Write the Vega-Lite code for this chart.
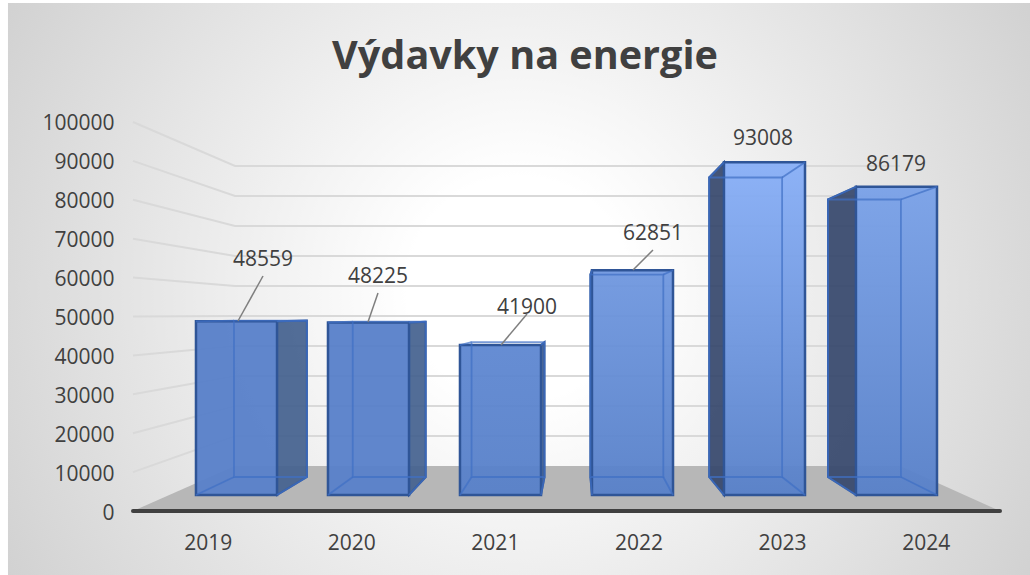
{
"$schema":"https://vega.github.io/schema/vega-lite/v6.json",
"width":1030,"height":575,"padding":0,
"autosize":{"type":"fit","contains":"padding"},
"background":"#ffffff",
"title":{"text":"Výdavky na energie","font":"Open Sans","fontSize":39.6,"fontWeight":"bold","color":"#404040","anchor":"middle","dx":10,"offset":-117,"baseline":"bottom"},
"config":{"view":{"stroke":null},"axis":{"labelFont":"Open Sans","labelFontSize":21,"labelColor":"#404040"}},
"datasets":{
"bars":[
{"year":"2019","value":48559,"labelSlot":0.8997,"labelY":65039},
{"year":"2020","value":48225,"labelSlot":1.6955,"labelY":60668},
{"year":"2021","value":41900,"labelSlot":2.7266,"labelY":52699},
{"year":"2022","value":62851,"labelSlot":3.5986,"labelY":71722},
{"year":"2023","value":93008,"labelSlot":4.3599,"labelY":96144},
{"year":"2024","value":86179,"labelSlot":5.2803,"labelY":89460}],
"card":[{"a":-0.8651,"b":6.2076,"c":130591,"d":-16452}],
"floor":[{"y":0,"x0":0,"x1":6},{"y":11568,"x0":0.7059,"x1":5.308}],
"axisLine":[{"s":0,"y":0},{"s":6,"y":0}],
"grid":[
{"t":1,"o":0,"s":0,"y":10000},{"t":1,"o":1,"s":0.7059,"y":19280},{"t":1,"o":2,"s":5.308,"y":19280},
{"t":2,"o":0,"s":0,"y":20000},{"t":2,"o":1,"s":0.7059,"y":26992},{"t":2,"o":2,"s":5.308,"y":26992},
{"t":3,"o":0,"s":0,"y":30000},{"t":3,"o":1,"s":0.7059,"y":34704},{"t":3,"o":2,"s":5.308,"y":34704},
{"t":4,"o":0,"s":0,"y":40000},{"t":4,"o":1,"s":0.7059,"y":42416},{"t":4,"o":2,"s":5.308,"y":42416},
{"t":5,"o":0,"s":0,"y":50000},{"t":5,"o":1,"s":0.7059,"y":50129},{"t":5,"o":2,"s":5.308,"y":50129},
{"t":6,"o":0,"s":0,"y":60000},{"t":6,"o":1,"s":0.7059,"y":57841},{"t":6,"o":2,"s":5.308,"y":57841},
{"t":7,"o":0,"s":0,"y":70000},{"t":7,"o":1,"s":0.7059,"y":65553},{"t":7,"o":2,"s":5.308,"y":65553},
{"t":8,"o":0,"s":0,"y":80000},{"t":8,"o":1,"s":0.7059,"y":73265},{"t":8,"o":2,"s":5.308,"y":73265},
{"t":9,"o":0,"s":0,"y":90000},{"t":9,"o":1,"s":0.7059,"y":80977},{"t":9,"o":2,"s":5.308,"y":80977},
{"t":10,"o":0,"s":0,"y":100000},{"t":10,"o":1,"s":0.7059,"y":88689},{"t":10,"o":2,"s":5.308,"y":88689}],
"sides":[
{"year":"2019","side":"right","s":0.9965,"y0":4113,"y1":48766},{"year":"2019","side":"right","s":1.2035,"y0":8740,"y1":48946},
{"year":"2020","side":"right","s":1.91,"y0":4113,"y1":48458},{"year":"2020","side":"right","s":2.0256,"y0":8740,"y1":48663},
{"year":"2021","side":"right","s":2.8235,"y0":4113,"y1":42648},{"year":"2021","side":"right","s":2.8478,"y0":8740,"y1":43419},
{"year":"2022","side":"left","s":3.1654,"y0":8740,"y1":60771},{"year":"2022","side":"left","s":3.1765,"y0":4113,"y1":61902},
{"year":"2023","side":"left","s":3.9875,"y0":8740,"y1":85733},{"year":"2023","side":"left","s":4.09,"y0":4113,"y1":89640},
{"year":"2024","side":"left","s":4.8097,"y0":8740,"y1":80077},{"year":"2024","side":"left","s":5.0035,"y0":4113,"y1":83368}],
"diagonals":[
{"e":"19a","s":0.436,"y":4113},{"e":"19a","s":0.699,"y":8740},{"e":"19b","s":0.9965,"y":4113},{"e":"19b","s":1.2035,"y":8740},{"e":"19c","s":0.436,"y":48766},{"e":"19c","s":0.699,"y":48946},{"e":"19d","s":0.9965,"y":48766},{"e":"19d","s":1.2035,"y":48946},
{"e":"20a","s":1.3495,"y":4113},{"e":"20a","s":1.5211,"y":8740},{"e":"20b","s":1.91,"y":4113},{"e":"20b","s":2.0256,"y":8740},{"e":"20c","s":1.3495,"y":48458},{"e":"20c","s":1.5211,"y":48663},{"e":"20d","s":1.91,"y":48458},{"e":"20d","s":2.0256,"y":48663},
{"e":"21a","s":2.263,"y":4113},{"e":"21a","s":2.3432,"y":8740},{"e":"21b","s":2.8235,"y":4113},{"e":"21b","s":2.8478,"y":8740},{"e":"21c","s":2.263,"y":42648},{"e":"21c","s":2.3432,"y":43419},{"e":"21d","s":2.8235,"y":42648},{"e":"21d","s":2.8478,"y":43419},
{"e":"22a","s":3.1765,"y":4113},{"e":"22a","s":3.1654,"y":8740},{"e":"22b","s":3.737,"y":4113},{"e":"22b","s":3.6699,"y":8740},{"e":"22c","s":3.1765,"y":61902},{"e":"22c","s":3.1654,"y":60771},{"e":"22d","s":3.737,"y":61902},{"e":"22d","s":3.6699,"y":60771},
{"e":"23a","s":4.09,"y":4113},{"e":"23a","s":3.9875,"y":8740},{"e":"23b","s":4.6505,"y":4113},{"e":"23b","s":4.4921,"y":8740},{"e":"23c","s":4.09,"y":89640},{"e":"23c","s":3.9875,"y":85733},{"e":"23d","s":4.6505,"y":89640},{"e":"23d","s":4.4921,"y":85733},
{"e":"24a","s":5.0035,"y":4113},{"e":"24a","s":4.8097,"y":8740},{"e":"24b","s":5.564,"y":4113},{"e":"24b","s":5.3142,"y":8740},{"e":"24c","s":5.0035,"y":83368},{"e":"24c","s":4.8097,"y":80077},{"e":"24d","s":5.564,"y":83368},{"e":"24d","s":5.3142,"y":80077}],
"leaders":[
{"year":"2019","s":0.7266,"y":48843},{"year":"2019","s":0.8997,"y":60411},
{"year":"2020","s":1.6263,"y":48586},{"year":"2020","s":1.6955,"y":56041},
{"year":"2021","s":2.5467,"y":42674},{"year":"2021","s":2.7266,"y":50643},
{"year":"2022","s":3.4602,"y":61954},{"year":"2022","s":3.5986,"y":67095}]
},
"resolve":{"scale":{"x":"independent","y":"independent","color":"independent"}},
"layer":[
{"data":{"name":"card"},
 "mark":{"type":"rect","fill":{"gradient":"radial","x1":0.5,"y1":0.5,"r1":0,"x2":0.5,"y2":0.5,"r2":0.72,"stops":[{"offset":0,"color":"#ffffff"},{"offset":0.15,"color":"#ffffff"},{"offset":1,"color":"#c3c3c3"}]}},
 "encoding":{
  "x":{"field":"a","type":"quantitative","scale":{"domain":[-0.9204,6.2076],"nice":false,"zero":false},"axis":null},"x2":{"field":"b"},
  "y":{"field":"c","type":"quantitative","scale":{"domain":[-16452,131362],"nice":false,"zero":false},"axis":null},"y2":{"field":"d"}}},
{"data":{"name":"floor"},
 "mark":{"type":"area","orient":"horizontal","fill":"#b7b7b7"},
 "encoding":{
  "y":{"field":"y","type":"quantitative","scale":{"domain":[-16452,131362],"nice":false,"zero":false},"axis":null},
  "x":{"field":"x0","type":"quantitative","scale":{"domain":[-0.9204,6.2076],"nice":false,"zero":false},"axis":null},"x2":{"field":"x1"}}},
{"data":{"name":"grid"},
 "mark":{"type":"line","stroke":"#d9d9d9","strokeWidth":2},
 "encoding":{
  "detail":{"field":"t"},"order":{"field":"o"},
  "x":{"field":"s","type":"quantitative","scale":{"domain":[-0.9204,6.2076],"nice":false,"zero":false},"axis":null},
  "y":{"field":"y","type":"quantitative","scale":{"domain":[-16452,131362],"nice":false,"zero":false},"axis":null}}},
{"data":{"name":"axisLine"},
 "mark":{"type":"line","stroke":"#404040","strokeWidth":4,"strokeCap":"round"},
 "encoding":{
  "x":{"field":"s","type":"quantitative","scale":{"domain":[-0.9204,6.2076],"nice":false,"zero":false},"axis":null},
  "y":{"field":"y","type":"quantitative","scale":{"domain":[-16452,131362],"nice":false,"zero":false},"axis":null}}},
{"data":{"name":"sides"},
 "mark":{"type":"area","orient":"vertical","stroke":"#2f5597","strokeWidth":2,"fillOpacity":0.92},
 "encoding":{
  "detail":{"field":"year"},
  "fill":{"field":"side","type":"nominal","scale":{"domain":["left","right"],"range":["#35466b","#43618e"]},"legend":null},
  "x":{"field":"s","type":"quantitative","scale":{"domain":[-0.9204,6.2076],"nice":false,"zero":false},"axis":null},
  "y":{"field":"y1","type":"quantitative","scale":{"domain":[-16452,131362],"nice":false,"zero":false},"axis":null},"y2":{"field":"y0"}}},
{"data":{"name":"bars"},"transform":[{"filter":"datum.year=='2019'"}],
 "mark":{"type":"bar","fill":"#5780c9","fillOpacity":0.95,"stroke":"#2f5597","strokeWidth":2.5},
 "encoding":{
  "x":{"field":"year","type":"nominal","scale":{"domain":["","2019","2020","2021","2022","2023","2024"],"paddingInner":0.386,"paddingOuter":0.5947,"align":0.4076},"axis":null},
  "y":{"field":"value","type":"quantitative","scale":{"domain":[-22365,138384],"nice":false,"zero":false},"axis":null},"y2":{"datum":0}}},
{"data":{"name":"bars"},"transform":[{"filter":"datum.year=='2020'"}],
 "mark":{"type":"bar","fill":"#5780c9","fillOpacity":0.95,"stroke":"#2f5597","strokeWidth":2.5},
 "encoding":{
  "x":{"field":"year","type":"nominal","scale":{"domain":["","2019","2020","2021","2022","2023","2024"],"paddingInner":0.386,"paddingOuter":0.5947,"align":0.4076},"axis":null},
  "y":{"field":"value","type":"quantitative","scale":{"domain":[-22365,138384],"nice":false,"zero":false},"axis":null},"y2":{"datum":0}}},
{"data":{"name":"bars"},"transform":[{"filter":"datum.year=='2021'"}],
 "mark":{"type":"bar","fill":{"gradient":"linear","x1":0,"y1":0,"x2":0,"y2":1,"stops":[{"offset":0,"color":"#5e87d1"},{"offset":1,"color":"#5780c9"}]},"fillOpacity":0.95,"stroke":"#2f5597","strokeWidth":2.5},
 "encoding":{
  "x":{"field":"year","type":"nominal","scale":{"domain":["","2019","2020","2021","2022","2023","2024"],"paddingInner":0.386,"paddingOuter":0.5947,"align":0.4076},"axis":null},
  "y":{"field":"value","type":"quantitative","scale":{"domain":[-22365,138384],"nice":false,"zero":false},"axis":null},"y2":{"datum":0}}},
{"data":{"name":"bars"},"transform":[{"filter":"datum.year=='2022'"}],
 "mark":{"type":"bar","fill":{"gradient":"linear","x1":0,"y1":0,"x2":0,"y2":1,"stops":[{"offset":0,"color":"#6f97df"},{"offset":1,"color":"#5780c9"}]},"fillOpacity":0.95,"stroke":"#2f5597","strokeWidth":2.5},
 "encoding":{
  "x":{"field":"year","type":"nominal","scale":{"domain":["","2019","2020","2021","2022","2023","2024"],"paddingInner":0.386,"paddingOuter":0.5947,"align":0.4076},"axis":null},
  "y":{"field":"value","type":"quantitative","scale":{"domain":[-22365,138384],"nice":false,"zero":false},"axis":null},"y2":{"datum":0}}},
{"data":{"name":"bars"},"transform":[{"filter":"datum.year=='2023'"}],
 "mark":{"type":"bar","fill":{"gradient":"linear","x1":0,"y1":0,"x2":0,"y2":1,"stops":[{"offset":0,"color":"#88aff7"},{"offset":1,"color":"#5780c9"}]},"fillOpacity":0.95,"stroke":"#2f5597","strokeWidth":2.5},
 "encoding":{
  "x":{"field":"year","type":"nominal","scale":{"domain":["","2019","2020","2021","2022","2023","2024"],"paddingInner":0.386,"paddingOuter":0.5947,"align":0.4076},"axis":null},
  "y":{"field":"value","type":"quantitative","scale":{"domain":[-22365,138384],"nice":false,"zero":false},"axis":null},"y2":{"datum":0}}},
{"data":{"name":"bars"},"transform":[{"filter":"datum.year=='2024'"}],
 "mark":{"type":"bar","fill":{"gradient":"linear","x1":0,"y1":0,"x2":0,"y2":1,"stops":[{"offset":0,"color":"#79a1e8"},{"offset":1,"color":"#5780c9"}]},"fillOpacity":0.95,"stroke":"#2f5597","strokeWidth":2.5},
 "encoding":{
  "x":{"field":"year","type":"nominal","scale":{"domain":["","2019","2020","2021","2022","2023","2024"],"paddingInner":0.386,"paddingOuter":0.5947,"align":0.4076},"axis":null},
  "y":{"field":"value","type":"quantitative","scale":{"domain":[-22365,138384],"nice":false,"zero":false},"axis":null},"y2":{"datum":0}}},
{"data":{"name":"bars"},
 "mark":{"type":"bar","fillOpacity":0,"stroke":"#3f6fc4","strokeWidth":1.8,"strokeOpacity":0.7},
 "encoding":{
  "x":{"field":"year","type":"nominal","scale":{"domain":["","2019","2020","2021","2022","2023","2024"," "],"paddingInner":0.386,"paddingOuter":0.528,"align":0.918},"axis":null},
  "y":{"field":"value","type":"quantitative","scale":{"domain":[-30435,148137],"nice":false,"zero":false},"axis":null},"y2":{"datum":0}}},
{"data":{"name":"diagonals"},
 "mark":{"type":"line","stroke":"#3f6fc4","strokeWidth":1.8,"strokeOpacity":0.7},
 "encoding":{
  "detail":{"field":"e"},
  "x":{"field":"s","type":"quantitative","scale":{"domain":[-0.9204,6.2076],"nice":false,"zero":false},"axis":null},
  "y":{"field":"y","type":"quantitative","scale":{"domain":[-16452,131362],"nice":false,"zero":false},"axis":null}}},
{"data":{"name":"leaders"},
 "mark":{"type":"line","stroke":"#7f7f7f","strokeWidth":1.5},
 "encoding":{
  "detail":{"field":"year"},
  "x":{"field":"s","type":"quantitative","scale":{"domain":[-0.9204,6.2076],"nice":false,"zero":false},"axis":null},
  "y":{"field":"y","type":"quantitative","scale":{"domain":[-16452,131362],"nice":false,"zero":false},"axis":null}}},
{"data":{"name":"bars"},
 "mark":{"type":"text","font":"Open Sans","fontSize":21,"fill":"#404040","align":"center","baseline":"middle","dy":2},
 "encoding":{
  "text":{"field":"value","type":"quantitative","format":"d"},
  "x":{"field":"labelSlot","type":"quantitative","scale":{"domain":[-0.9204,6.2076],"nice":false,"zero":false},"axis":null},
  "y":{"field":"labelY","type":"quantitative","scale":{"domain":[-16452,131362],"nice":false,"zero":false},"axis":null}}},
{"data":{"name":"bars"},
 "mark":{"type":"bar","opacity":0},
 "encoding":{
  "x":{"field":"year","type":"nominal","scale":{"domain":["2019","2020","2021","2022","2023","2024"],"paddingInner":0,"paddingOuter":0.586,"align":0.81},
   "axis":{"orient":"bottom","offset":-47,"title":null,"labelAngle":0,"domain":false,"ticks":false,"labelPadding":4,"zindex":1}},
  "y":{"field":"value","type":"quantitative","scale":{"domain":[-16452,131362],"nice":false,"zero":false},
   "axis":{"orient":"left","offset":-114,"title":null,"values":[0,10000,20000,30000,40000,50000,60000,70000,80000,90000,100000],"format":"d","grid":false,"domain":false,"ticks":false,"labelPadding":0,"labelOffset":2,"labelOverlap":false,"labelFlush":false,"labelBound":false,"zindex":1}},
  "y2":{"datum":0}}}
]
}
